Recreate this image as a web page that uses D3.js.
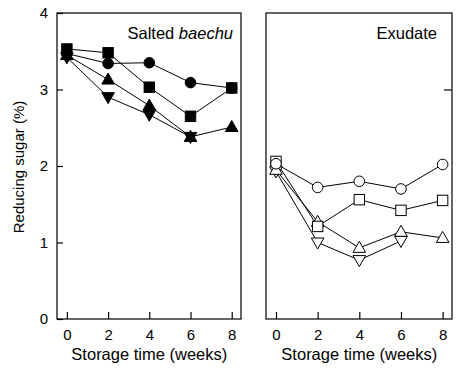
<!DOCTYPE html>
<html><head><meta charset="utf-8">
<script src="https://cdn.jsdelivr.net/npm/d3@7"></script>
<style>body{margin:0;background:#fff}svg{display:block}text{font-family:"Liberation Sans",Arial,sans-serif;fill:#000}</style>
</head><body><svg id="c" width="462" height="376"></svg>
<script>
const weeks = [0, 2, 4, 6, 8];
const yTicks = [0, 1, 2, 3, 4];
// Salted baechu (filled markers)
const saltCircle = [3.47, 3.34, 3.35, 3.09, 3.02];
const saltSquare = [3.53, 3.48, 3.03, 2.65, 3.02];
const saltTriUp = [3.45, 3.13, 2.79, 2.38, 2.51];
const saltTriDown = [3.42, 2.90, 2.67, 2.38];
// Exudate (open markers)
const exCircle = [2.03, 1.72, 1.80, 1.70, 2.02];
const exSquare = [2.06, 1.21, 1.56, 1.42, 1.55];
const exTriUp = [1.95, 1.27, 0.93, 1.14, 1.06];
const exTriDown = [1.93, 1.00, 0.77, 1.02];

const svg = d3.select("#c");
const y = d3.scaleLinear().domain([0, 4]).range([319, 13]);
const FONT = "Liberation Sans, Arial, sans-serif";

const panels = [
  {x0: 57, x1: 241, title: ["Salted ", "baechu"], tx: 233, filled: true,
   series: [[saltCircle, "circle"], [saltSquare, "square"], [saltTriUp, "up"], [saltTriDown, "down"]]},
  {x0: 266, x1: 452, title: ["Exudate"], tx: 437, filled: false,
   series: [[exCircle, "circle"], [exSquare, "square"], [exTriUp, "up"], [exTriDown, "down"]]}
];

function marker(g, type, cx, cy, filled) {
  const fill = filled ? "#000" : "#fff";
  let el;
  if (type === "circle") el = g.append("circle").attr("cx", cx).attr("cy", cy).attr("r", 5.3);
  else if (type === "square") el = g.append("rect").attr("x", cx - 5.2).attr("y", cy - 5.2).attr("width", 10.4).attr("height", 10.4);
  else if (type === "up") el = g.append("path").attr("d", `M${cx},${cy-6.5}L${cx+6.3},${cy+4.5}L${cx-6.3},${cy+4.5}Z`);
  else el = g.append("path").attr("d", `M${cx},${cy+6.5}L${cx+6.3},${cy-4.5}L${cx-6.3},${cy-4.5}Z`);
  el.attr("fill", fill).attr("stroke", "#000").attr("stroke-width", 1);
}

panels.forEach((p, i) => {
  const x = d3.scaleLinear().domain([-0.48, 8.45]).range([p.x0, p.x1]);
  const g = svg.append("g");
  g.append("rect").attr("x", p.x0).attr("y", 13).attr("width", p.x1 - p.x0).attr("height", 306)
    .attr("fill", "none").attr("stroke", "#000").attr("stroke-width", 1.2);
  const xa = g.append("g").attr("transform", "translate(0,319)")
    .call(d3.axisBottom(x).tickValues(weeks).tickFormat(d3.format("d")).tickSizeInner(-7).tickSizeOuter(0).tickPadding(10));
  xa.select(".domain").remove();
  xa.selectAll("text").attr("font-size", 15).attr("font-family", FONT);
  xa.selectAll("line").attr("stroke-width", 1.2);
  if (i === 0) {
    const ya = g.append("g").attr("transform", `translate(${p.x0},0)`)
      .call(d3.axisLeft(y).tickValues(yTicks).tickFormat(d3.format("d")).tickSizeInner(-6).tickSizeOuter(0).tickPadding(9));
    ya.select(".domain").remove();
    ya.selectAll("text").attr("font-size", 15).attr("font-family", FONT);
    ya.selectAll("line").attr("stroke-width", 1.2);
  } else {
    const ya = g.append("g").attr("transform", `translate(${p.x1},0)`)
      .call(d3.axisRight(y).tickValues([3]).tickSizeInner(-8).tickSizeOuter(0));
    ya.select(".domain").remove();
    ya.selectAll("text").remove();
    ya.selectAll("line").attr("stroke-width", 1.2);
  }
  const line = d3.line().x((d, j) => x(weeks[j])).y(d => y(d));
  p.series.forEach(([vals]) => {
    g.append("path").attr("d", line(vals)).attr("fill", "none").attr("stroke", "#000").attr("stroke-width", 1);
  });
  p.series.slice().reverse().forEach(([vals, type]) => {
    vals.forEach((v, j) => marker(g, type, x(weeks[j]), y(v), p.filled));
  });
  const t = g.append("text").attr("x", p.tx).attr("y", 39).attr("text-anchor", "end").attr("font-size", 16.5);
  t.append("tspan").text(p.title[0]);
  if (p.title[1]) t.append("tspan").attr("font-style", "italic").text(p.title[1]);
  g.append("text").attr("x", x(4)).attr("y", 360).attr("text-anchor", "middle").attr("font-size", 16.5)
    .text("Storage time (weeks)");
});

svg.append("text").attr("transform", "translate(24,167) rotate(-90)").attr("text-anchor", "middle")
  .attr("font-size", 15).text("Reducing sugar (%)");
</script></body></html>
